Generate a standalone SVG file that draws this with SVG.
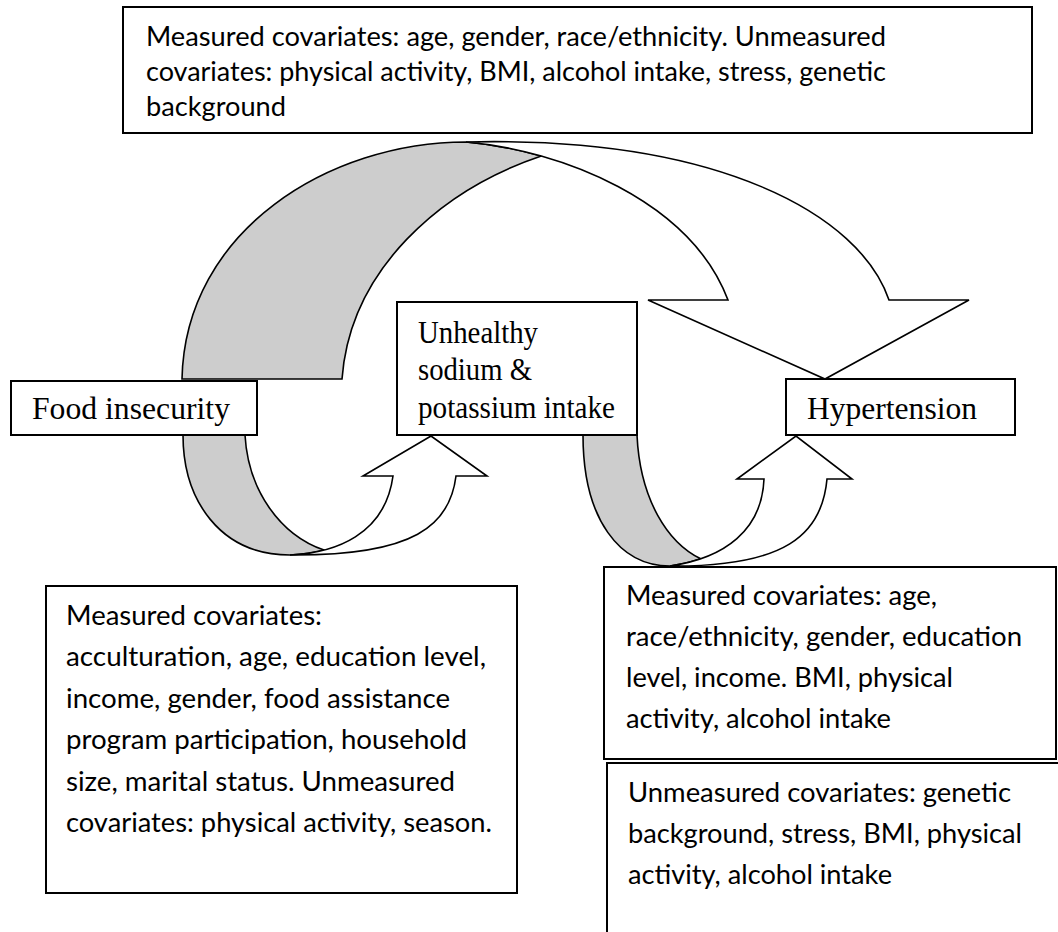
<svg xmlns="http://www.w3.org/2000/svg" width="1058" height="932" viewBox="0 0 1058 932">
<style>
.box{fill:#fff;stroke:#000;stroke-width:2}
.shade{fill:#cdcdcd;stroke:#000;stroke-width:1.6;stroke-linejoin:miter}
.front{fill:#fff;stroke:#000;stroke-width:1.6;stroke-linejoin:miter}
.serif{font-family:"Liberation Serif","Times New Roman",serif;font-size:32px;fill:#000}
.sans{font-family:Lato,"Open Sans","Liberation Sans",sans-serif;font-size:26px;fill:#000}
</style>
<rect width="1058" height="932" fill="#fff"/>
<g id="connectors">
  <g id="arrow-food-hypertension">
    <path class="shade" d="M182,379 C185,230 330,142 466,142 C489.5,144 515.25,148.6 541.25,156 C440,190 350,270 342,379 Z"/>
    <path class="front" d="M466,142 C720,136 860,215 889,300 L969,300 L825,379 L648,300 L728,300 C690,200 560,150 466,142 Z"/>
  </g>
  <g id="arrow-food-sodium">
    <path class="shade" d="M183,435 C183,500 220,555 290,555 C301.25,554.5 312.8,553 324,550.1 C280,535 248,490 245,435 Z"/>
    <path class="front" d="M290,555 C415,556 450,525 456,476 L487,476 L431,436 L363,476 L393,476 C385,535 335,553 290,555 Z"/>
  </g>
  <g id="arrow-sodium-hypertension">
    <path class="shade" d="M583,435 C583,520 620,566 670,566 C681,564.4 691.3,562 700.7,558.8 C668,543 640,500 637,435 Z"/>
    <path class="front" d="M670,566 C785,567 822,535 827,479 L852,479 L796,436 L737,479 L764,479 C762,530 725,558 670,566 Z"/>
  </g>
</g>
<g id="node-top-covariates">
  <rect class="box" x="123" y="7" width="909" height="126"/>
  <text class="sans" x="146" y="46" textLength="740" lengthAdjust="spacingAndGlyphs">Measured covariates: age, gender, race/ethnicity. Unmeasured</text>
  <text class="sans" x="146" y="81" textLength="740" lengthAdjust="spacingAndGlyphs">covariates: physical activity, BMI, alcohol intake, stress, genetic</text>
  <text class="sans" x="146" y="116" textLength="140" lengthAdjust="spacingAndGlyphs">background</text>
</g>
<g id="node-food-insecurity">
  <rect class="box" x="11" y="381" width="246" height="54"/>
  <text class="serif" x="32" y="419" textLength="198" lengthAdjust="spacingAndGlyphs">Food insecurity</text>
</g>
<g id="node-sodium">
  <rect class="box" x="397" y="302" width="240" height="133"/>
  <text class="serif" x="418" y="343" textLength="120" lengthAdjust="spacingAndGlyphs">Unhealthy</text>
  <text class="serif" x="418" y="380" textLength="114" lengthAdjust="spacingAndGlyphs">sodium &amp;</text>
  <text class="serif" x="418" y="418" textLength="197" lengthAdjust="spacingAndGlyphs">potassium intake</text>
</g>
<g id="node-hypertension">
  <rect class="box" x="786" y="379" width="229" height="56"/>
  <text class="serif" x="807" y="419" textLength="170" lengthAdjust="spacingAndGlyphs">Hypertension</text>
</g>
<g id="node-left-covariates">
  <rect class="box" x="46" y="586" width="471" height="307"/>
  <text class="sans" x="66" y="625" textLength="256" lengthAdjust="spacingAndGlyphs">Measured covariates:</text>
  <text class="sans" x="66" y="666" textLength="420" lengthAdjust="spacingAndGlyphs">acculturation, age, education level,</text>
  <text class="sans" x="66" y="708" textLength="384" lengthAdjust="spacingAndGlyphs">income, gender, food assistance</text>
  <text class="sans" x="66" y="749" textLength="401" lengthAdjust="spacingAndGlyphs">program participation, household</text>
  <text class="sans" x="66" y="791" textLength="389" lengthAdjust="spacingAndGlyphs">size, marital status. Unmeasured</text>
  <text class="sans" x="66" y="832" textLength="426" lengthAdjust="spacingAndGlyphs">covariates: physical activity, season.</text>
</g>
<g id="node-right-measured">
  <rect class="box" x="604" y="567" width="452" height="192"/>
  <text class="sans" x="626" y="605" textLength="311" lengthAdjust="spacingAndGlyphs">Measured covariates: age,</text>
  <text class="sans" x="626" y="646" textLength="396" lengthAdjust="spacingAndGlyphs">race/ethnicity, gender, education</text>
  <text class="sans" x="626" y="687" textLength="327" lengthAdjust="spacingAndGlyphs">level, income. BMI, physical</text>
  <text class="sans" x="626" y="728" textLength="265" lengthAdjust="spacingAndGlyphs">activity, alcohol intake</text>
</g>
<g id="node-right-unmeasured">
  <rect class="box" x="607" y="763" width="470" height="190"/>
  <text class="sans" x="628" y="802" textLength="383" lengthAdjust="spacingAndGlyphs">Unmeasured covariates: genetic</text>
  <text class="sans" x="628" y="843" textLength="394" lengthAdjust="spacingAndGlyphs">background, stress, BMI, physical</text>
  <text class="sans" x="628" y="884" textLength="264" lengthAdjust="spacingAndGlyphs">activity, alcohol intake</text>
</g>
</svg>
